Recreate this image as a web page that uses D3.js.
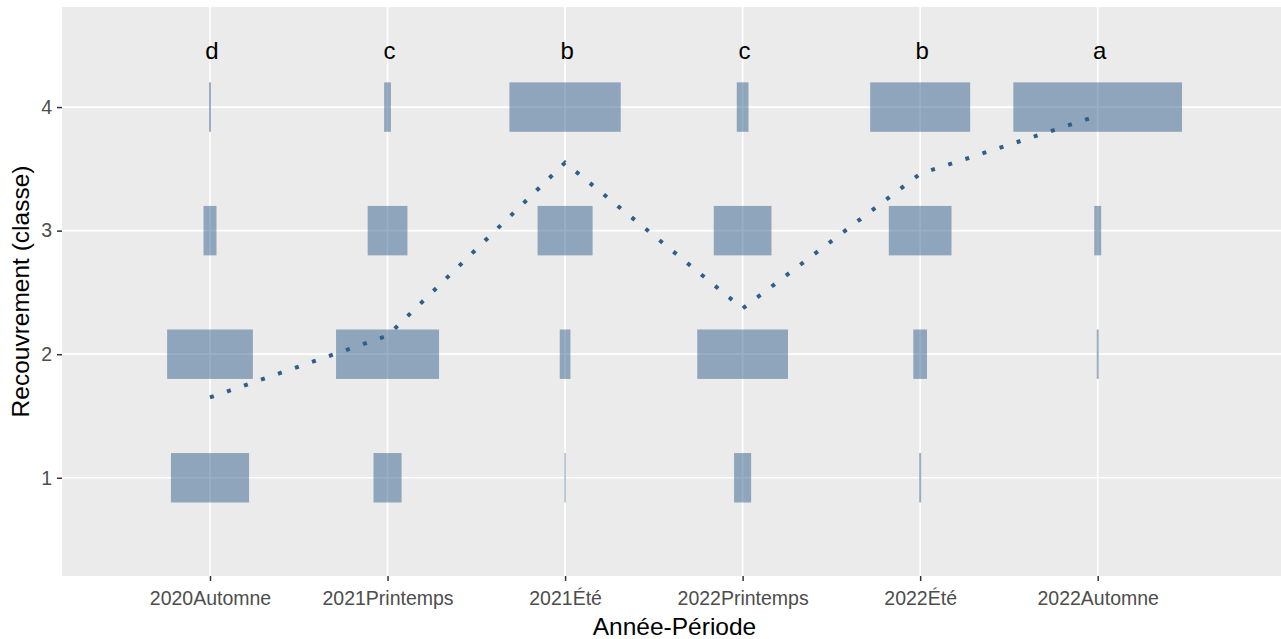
<!DOCTYPE html>
<html>
<head>
<meta charset="utf-8">
<script src="https://cdn.jsdelivr.net/npm/d3@7"></script>
<style>
  html, body { margin: 0; padding: 0; background: #ffffff; }
  svg { display: block; font-family: "Liberation Sans", Arial, sans-serif; }
</style>
</head>
<body>
<svg id="chart" width="1281" height="639"></svg>
<script>
// ---- data ----
const periods = ["2020Automne", "2021Printemps", "2021Été", "2022Printemps", "2022Été", "2022Automne"];
const classes = [1, 2, 3, 4];
const propClass1 = [0.440, 0.158, 0.007, 0.096, 0.011, 0.000];
const propClass2 = [0.483, 0.580, 0.060, 0.511, 0.077, 0.011];
const propClass3 = [0.073, 0.224, 0.310, 0.325, 0.353, 0.039];
const propClass4 = [0.011, 0.038, 0.627, 0.066, 0.563, 0.950];
const meanCover = [1.65, 2.15, 3.55, 2.37, 3.46, 3.93];
const groupLetters = ["d", "c", "b", "c", "b", "a"];
const letterY = 4.46;
const yTicks = [1, 2, 3, 4];

// ---- layout ----
const W = 1281, H = 639;
const panel = { left: 62, right: 1281, top: 7, bottom: 576 };
const svg = d3.select("#chart");

const x = d3.scalePoint().domain(periods).range([210, 1097.7]);
const step = x.step();
const y = d3.scaleLinear().domain([0.205, 4.81]).range([panel.bottom, panel.top]);

// panel background
svg.append("rect")
  .attr("x", panel.left).attr("y", panel.top)
  .attr("width", panel.right - panel.left).attr("height", panel.bottom - panel.top)
  .attr("fill", "#ebebeb");

// grid
const grid = svg.append("g");
grid.selectAll("line.gy").data(yTicks).join("line")
  .attr("x1", panel.left).attr("x2", panel.right)
  .attr("y1", d => y(d)).attr("y2", d => y(d))
  .attr("stroke", "#ffffff").attr("stroke-width", 1.7);
grid.selectAll("line.gx").data(periods).join("line")
  .attr("x1", d => x(d)).attr("x2", d => x(d))
  .attr("y1", panel.top).attr("y2", panel.bottom)
  .attr("stroke", "#ffffff").attr("stroke-width", 1.7);

// tile rows
const tiles = [];
const propsByClass = [propClass1, propClass2, propClass3, propClass4];
classes.forEach((c, ci) => {
  periods.forEach((p, pi) => {
    tiles.push({ period: p, cls: c, prop: propsByClass[ci][pi] });
  });
});

svg.append("g").selectAll("rect").data(tiles.filter(d => d.prop > 0)).join("rect")
  .attr("x", d => x(d.period) - d.prop * step / 2)
  .attr("width", d => d.prop * step)
  .attr("y", d => y(d.cls + 0.2))
  .attr("height", d => y(d.cls - 0.2) - y(d.cls + 0.2))
  .attr("fill", "#33608c")
  .attr("fill-opacity", 0.5);

// mean line (dotted)
const line = d3.line()
  .x((d, i) => x(periods[i]))
  .y(d => y(d));
svg.append("path")
  .datum(meanCover)
  .attr("d", line)
  .attr("fill", "none")
  .attr("stroke", "#2e5f8b")
  .attr("stroke-width", 4)
  .attr("stroke-dasharray", "4 14");

// letters
svg.append("g").selectAll("text").data(groupLetters).join("text")
  .attr("x", (d, i) => x(periods[i]) + 2)
  .attr("y", y(letterY))
  .attr("text-anchor", "middle")
  .attr("dominant-baseline", "central")
  .attr("font-size", 24)
  .attr("fill", "#000000")
  .text(d => d);

// axes
const xAxis = svg.append("g")
  .attr("transform", `translate(0,${panel.bottom})`)
  .call(d3.axisBottom(x).tickSize(5).tickPadding(10));
xAxis.select(".domain").remove();
xAxis.selectAll("line").attr("stroke", "#333333").attr("stroke-width", 1.5);
xAxis.selectAll("text").attr("font-size", 19.5).attr("fill", "#4d4d4d")
  .attr("font-family", "Liberation Sans, Arial, sans-serif");

const yAxis = svg.append("g")
  .attr("transform", `translate(${panel.left},0)`)
  .call(d3.axisLeft(y).tickValues(yTicks).tickFormat(d3.format("d")).tickSize(5).tickPadding(5));
yAxis.select(".domain").remove();
yAxis.selectAll("line").attr("stroke", "#333333").attr("stroke-width", 1.5);
yAxis.selectAll("text").attr("font-size", 19.5).attr("fill", "#4d4d4d")
  .attr("font-family", "Liberation Sans, Arial, sans-serif");

// axis titles
svg.append("text")
  .attr("x", (panel.left + panel.right) / 2 + 3)
  .attr("y", 626)
  .attr("text-anchor", "middle")
  .attr("dominant-baseline", "central")
  .attr("font-size", 24.5)
  .attr("fill", "#000000")
  .text("Année-Période");

svg.append("text")
  .attr("transform", `translate(20,${(panel.top + panel.bottom) / 2}) rotate(-90)`)
  .attr("text-anchor", "middle")
  .attr("dominant-baseline", "central")
  .attr("font-size", 24.5)
  .attr("fill", "#000000")
  .text("Recouvrement (classe)");
</script>
</body>
</html>
